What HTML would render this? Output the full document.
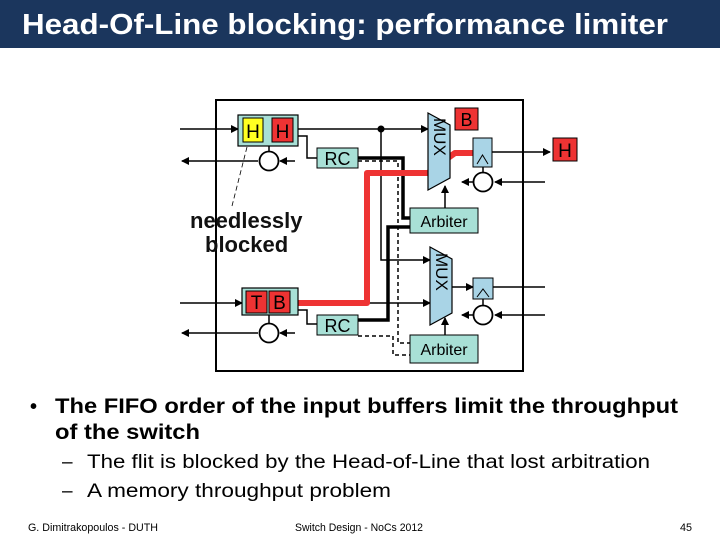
<!DOCTYPE html>
<html><head><meta charset="utf-8"><style>
html,body{margin:0;padding:0;background:#fff;}
svg{display:block;}
</style></head><body>
<svg width="720" height="540" viewBox="0 0 720 540" xmlns="http://www.w3.org/2000/svg" font-family="Liberation Sans, Arial, sans-serif">
<defs>
<marker id="a" markerWidth="8" markerHeight="8" refX="7" refY="4" orient="auto" markerUnits="userSpaceOnUse"><path d="M0,0 L8,4 L0,8 z" fill="#000"/></marker>
</defs>
<rect x="0" y="0" width="720" height="48" fill="#1b365d"/>
<text x="22" y="34" fill="#fff" font-size="29" font-weight="bold" textLength="646" lengthAdjust="spacingAndGlyphs">Head-Of-Line blocking: performance limiter</text>

<!-- diagram -->
<rect x="216" y="100" width="307" height="271" fill="#fff" stroke="#000" stroke-width="2"/>
<g stroke="#000" stroke-width="1.5" fill="none">
<line x1="180" y1="129" x2="238" y2="129" marker-end="url(#a)"/>
<line x1="258" y1="161" x2="182" y2="161" marker-end="url(#a)"/>
<line x1="295" y1="161" x2="280" y2="161" marker-end="url(#a)"/>
<line x1="269" y1="146" x2="269" y2="151"/>
<line x1="180" y1="303" x2="242" y2="303" marker-end="url(#a)"/>
<line x1="258" y1="333" x2="182" y2="333" marker-end="url(#a)"/>
<line x1="295" y1="333" x2="280" y2="333" marker-end="url(#a)"/>
<line x1="269" y1="315" x2="269" y2="323"/>
<line x1="298" y1="129" x2="428" y2="129" marker-end="url(#a)"/>
<polyline points="381,129 381,260 430,260" marker-end="url(#a)"/>
<line x1="298" y1="303" x2="430" y2="303" marker-end="url(#a)"/>
<polyline points="298,136 307,136 307,158 317,158"/>
<polyline points="298,310 307,310 307,324 317,324"/>
<line x1="492" y1="152" x2="550" y2="152" marker-end="url(#a)"/>
<line x1="545" y1="182" x2="495" y2="182" marker-end="url(#a)"/>
<line x1="473" y1="182" x2="462" y2="182" marker-end="url(#a)"/>
<line x1="483" y1="167" x2="483" y2="172"/>
<line x1="452" y1="287" x2="473" y2="287" marker-end="url(#a)"/>
<line x1="493" y1="287" x2="545" y2="287"/>
<line x1="545" y1="315" x2="495" y2="315" marker-end="url(#a)"/>
<line x1="473" y1="315" x2="462" y2="315" marker-end="url(#a)"/>
<line x1="483" y1="299" x2="483" y2="305"/>
<line x1="445" y1="208" x2="445" y2="186" marker-end="url(#a)"/>
<line x1="445" y1="335" x2="445" y2="318" marker-end="url(#a)"/>
</g>
<circle cx="381" cy="129" r="3.5" fill="#000"/>
<!-- thick black -->
<polyline points="358,158 403,158 403,218 410,218" fill="none" stroke="#000" stroke-width="3.5"/>
<polyline points="358,320 388,320 388,227 410,227" fill="none" stroke="#000" stroke-width="3.5"/>
<!-- dashed -->
<polyline points="358,161 398,161 398,343 410,343" fill="none" stroke="#000" stroke-width="1.5" stroke-dasharray="4,3"/>
<polyline points="358,336 393,336 393,355 410,355" fill="none" stroke="#000" stroke-width="1.5" stroke-dasharray="4,3"/>
<!-- red path -->
<polyline points="298,303 367,303 367,173 428,173 448,158 455,153 473,153" fill="none" stroke="#ee3333" stroke-width="6" stroke-linejoin="round"/>
<!-- mux -->
<polygon points="428,113 450,125 450,178 428,190" fill="#a9d4e6" stroke="#000" stroke-width="1.2"/>
<polygon points="430,247 452,259 452,313 430,325" fill="#a9d4e6" stroke="#000" stroke-width="1.2"/>
<text transform="translate(434,118) rotate(90)" font-size="17">MUX</text>
<text transform="translate(436,253) rotate(90)" font-size="17">MUX</text>
<!-- buffers -->
<rect x="238" y="115" width="60" height="31" fill="#a8e0d6" stroke="#000" stroke-width="1.2"/>
<rect x="243" y="118" width="20" height="24" fill="#ffff22" stroke="#000"/>
<rect x="272" y="118" width="21" height="24" fill="#ee3333" stroke="#000"/>
<text x="253" y="138" font-size="19" text-anchor="middle">H</text>
<text x="282.5" y="138" font-size="19" text-anchor="middle">H</text>
<rect x="242" y="288" width="56" height="27" fill="#a8e0d6" stroke="#000" stroke-width="1.2"/>
<rect x="246" y="291" width="21" height="22" fill="#ee3333" stroke="#000"/>
<rect x="269" y="291" width="21" height="22" fill="#ee3333" stroke="#000"/>
<text x="256.5" y="309" font-size="19" text-anchor="middle">T</text>
<text x="279.5" y="309" font-size="19" text-anchor="middle">B</text>
<circle cx="269" cy="161" r="9.5" fill="#fff" stroke="#000" stroke-width="1.8"/>
<circle cx="269" cy="333" r="9.5" fill="#fff" stroke="#000" stroke-width="1.8"/>
<circle cx="483" cy="182" r="9.5" fill="#fff" stroke="#000" stroke-width="1.8"/>
<circle cx="483" cy="315" r="9.5" fill="#fff" stroke="#000" stroke-width="1.8"/>
<!-- RC -->
<rect x="317" y="148" width="41" height="20" fill="#a8e0d6" stroke="#000"/>
<text x="337.5" y="165" font-size="18" text-anchor="middle">RC</text>
<rect x="317" y="315" width="41" height="20" fill="#a8e0d6" stroke="#000"/>
<text x="337.5" y="332" font-size="18" text-anchor="middle">RC</text>
<!-- arbiters -->
<rect x="410" y="208" width="68" height="25" fill="#a8e0d6" stroke="#000"/>
<text x="444" y="227" font-size="16" text-anchor="middle">Arbiter</text>
<rect x="410" y="335" width="68" height="28" fill="#a8e0d6" stroke="#000"/>
<text x="444" y="355" font-size="16" text-anchor="middle">Arbiter</text>
<!-- registers -->
<rect x="473" y="138" width="19" height="29" fill="#a9d4e6" stroke="#000"/>
<polyline points="477,164 482.5,155 488,164" fill="none" stroke="#000"/>
<rect x="473" y="278" width="20" height="21" fill="#a9d4e6" stroke="#000"/>
<polyline points="477,297 483,289 489,297" fill="none" stroke="#000"/>
<!-- B and H -->
<rect x="455" y="108" width="23" height="22" fill="#ee3333" stroke="#000"/>
<text x="466.5" y="126" font-size="18" text-anchor="middle">B</text>
<rect x="553" y="138" width="24" height="23" fill="#ee3333" stroke="#000"/>
<text x="565" y="157" font-size="19" text-anchor="middle">H</text>
<!-- needlessly blocked -->
<line x1="247" y1="147" x2="232" y2="206" stroke="#000" stroke-width="0.8" stroke-dasharray="5,3"/>
<text x="190" y="228" font-size="22" font-weight="bold" fill="#111">needlessly</text>
<text x="205" y="252" font-size="22" font-weight="bold" fill="#111">blocked</text>

<!-- bullets -->
<text x="30" y="413" font-size="20" font-weight="bold">•</text>
<text x="55" y="413" font-size="21" font-weight="bold" textLength="623" lengthAdjust="spacingAndGlyphs">The FIFO order of the input buffers limit the throughput</text>
<text x="55" y="439" font-size="21" font-weight="bold" textLength="145" lengthAdjust="spacingAndGlyphs">of the switch</text>
<text x="62" y="468" font-size="19">–</text>
<text x="87" y="468" font-size="19" textLength="563" lengthAdjust="spacingAndGlyphs">The flit is blocked by the Head-of-Line that lost arbitration</text>
<text x="62" y="497" font-size="19">–</text>
<text x="87" y="497" font-size="19" textLength="304" lengthAdjust="spacingAndGlyphs">A memory throughput problem</text>
<text x="28" y="531" font-size="11" textLength="130" lengthAdjust="spacingAndGlyphs">G. Dimitrakopoulos - DUTH</text>
<text x="295" y="531" font-size="11" textLength="128" lengthAdjust="spacingAndGlyphs">Switch Design - NoCs 2012</text>
<text x="680" y="531" font-size="11" textLength="12" lengthAdjust="spacingAndGlyphs">45</text>
</svg>
</body></html>
